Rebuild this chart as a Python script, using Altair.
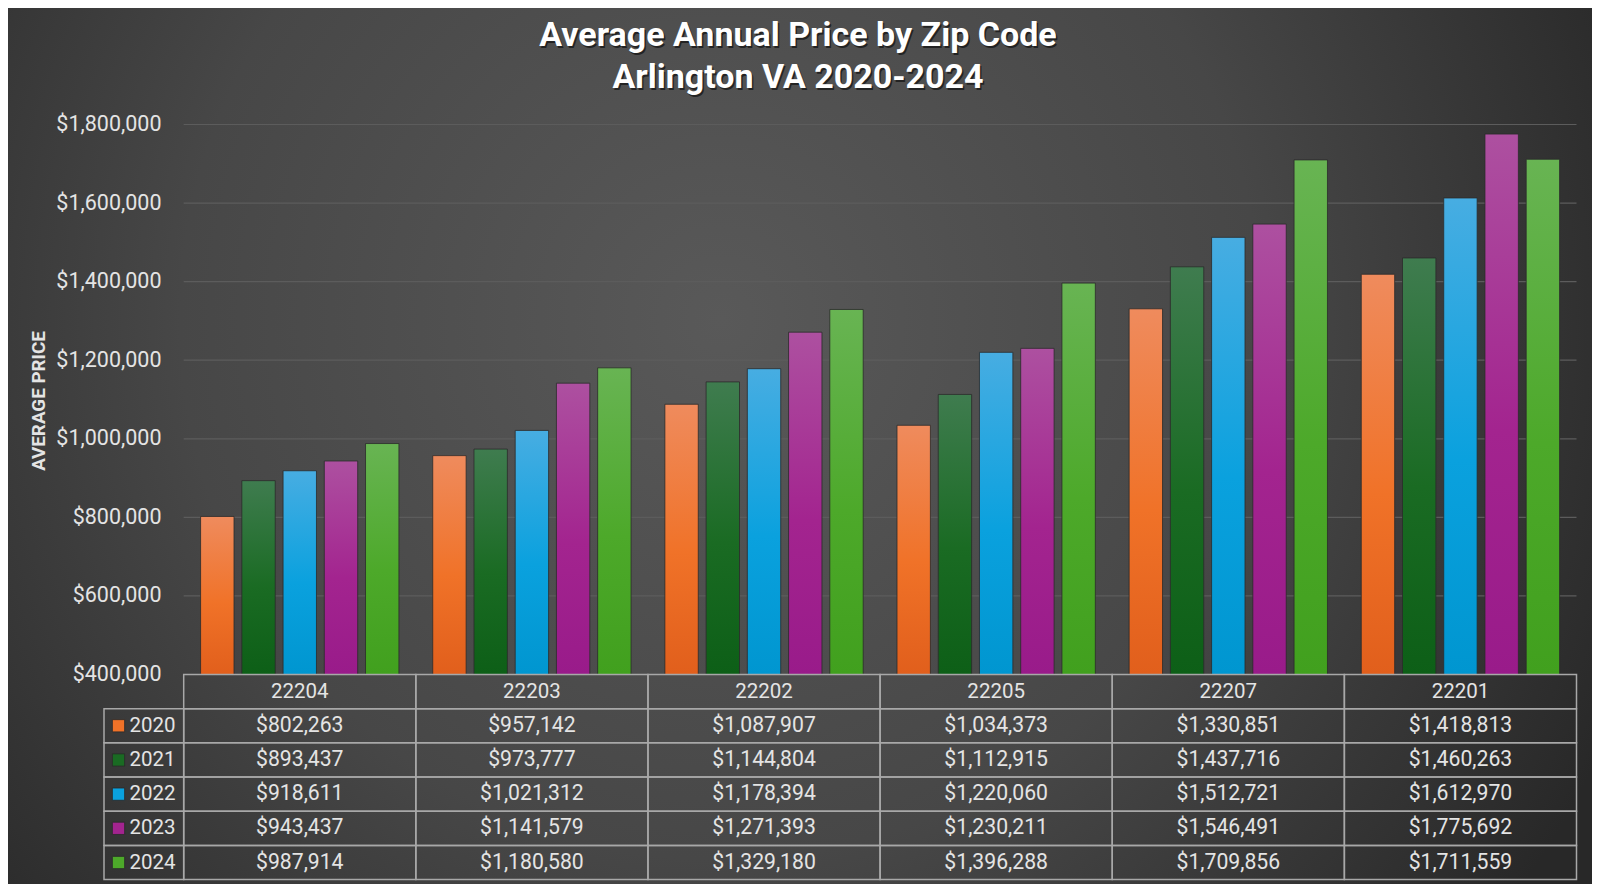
import altair as alt
import pandas as pd

# ---------------- data ----------------
zips = ["22204", "22203", "22202", "22205", "22207", "22201"]
years = ["2020", "2021", "2022", "2023", "2024"]
p2020 = [802263, 957142, 1087907, 1034373, 1330851, 1418813]
p2021 = [893437, 973777, 1144804, 1112915, 1437716, 1460263]
p2022 = [918611, 1021312, 1178394, 1220060, 1512721, 1612970]
p2023 = [943437, 1141579, 1271393, 1230211, 1546491, 1775692]
p2024 = [987914, 1180580, 1329180, 1396288, 1709856, 1711559]
y_ticks = [400000, 600000, 800000, 1000000, 1200000, 1400000, 1600000, 1800000]
title_lines = ["Average Annual Price by Zip Code", "Arlington VA 2020-2024"]
y_title = "AVERAGE PRICE"

# ---------------- styles ----------------
W, H = 1584, 876
FONT = "Roboto, 'Liberation Sans', sans-serif"
TXT = "#E4E4E4"
GRID = "#5C5C5C"
TBL = "#A8A8A8"
bar_top = ["#EF8B5D", "#3F7C4F", "#47ADE2", "#AD50A0", "#68B453"]
bar_mid = ["#F07228", "#1A6B23", "#0AA1DE", "#A3248F", "#4DA92A"]
bar_bot = ["#E15F1C", "#0D5F17", "#0096D0", "#991B8A", "#41A01E"]

PX0, PX1 = 175.7, 1568.5        # plot / table column span
PY_TOP, PY_BOT = 116.5, 666.5   # y range of value axis
TBL_BOT = 871.6
LEG_X0 = 96

series = [p2020, p2021, p2022, p2023, p2024]
rows = []
for yr, vals in zip(years, series):
    for z, v in zip(zips, vals):
        rows.append({"zip": z, "year": yr, "price": v, "row": yr, "label": f"${v:,.0f}"})
df = pd.DataFrame(rows)
hdr = pd.DataFrame({"zip": zips, "row": ["hdr"] * len(zips), "label": zips})
yrs_df = pd.DataFrame({"year": years, "row": years})
ticks_df = pd.DataFrame({"v": y_ticks})
one = pd.DataFrame({"a": [0]})

x_scale = alt.Scale(domain=zips, range=[PX0, PX1], paddingInner=0, paddingOuter=0)
xo_scale = alt.Scale(domain=years, paddingInner=0.19, paddingOuter=0.41)
y_scale = alt.Scale(domain=[400000, 1800000], range=[PY_BOT, PY_TOP], zero=False, nice=False)
row_scale = alt.Scale(domain=["hdr"] + years, range=[PY_BOT, TBL_BOT], paddingInner=0, paddingOuter=0)

# ---------------- background ----------------
bg = alt.Chart(one).mark_rect(
    color=alt.Gradient(
        gradient="radial", x1=0.45, y1=0.42, r1=0, x2=0.45, y2=0.42, r2=0.62,
        stops=[alt.GradientStop(offset=0, color="#595959"),
               alt.GradientStop(offset=0.55, color="#474747"),
               alt.GradientStop(offset=1, color="#282828")]
    )
).encode(x=alt.value(0), x2=alt.value(W), y=alt.value(0), y2=alt.value(H))

# ---------------- grid + axis ----------------
grid = alt.Chart(ticks_df).transform_filter("datum.v > 400000").mark_rule(
    color=GRID, strokeWidth=1.2
).encode(
    y=alt.Y("v:Q", scale=y_scale, axis=alt.Axis(
        values=y_ticks, format="$,.0f", offset=-153, domain=False, ticks=False,
        tickSize=0, labelPadding=0, grid=False, zindex=1,
        labelFont=FONT, labelFontSize=21.5, labelColor=TXT,
        title=y_title, titleFont=FONT, titleFontSize=18.8, titleFontWeight="bold",
        titleColor=TXT, titleX=-123, titleY=392.5, titleAngle=270,
        titleAlign="center", titleBaseline="middle")),
    x=alt.value(PX0), x2=alt.value(PX1)
)

# ---------------- bars ----------------
bar_layers = []
for i, yr in enumerate(years):
    grad = alt.Gradient(
        gradient="linear", x1=0, y1=0, x2=0, y2=1,
        stops=[alt.GradientStop(offset=0, color=bar_top[i]),
               alt.GradientStop(offset=0.55, color=bar_mid[i]),
               alt.GradientStop(offset=1, color=bar_bot[i])])
    bar_layers.append(
        alt.Chart(df).transform_filter(f"datum.year == '{yr}'").mark_bar(
            color=grad, stroke="#2A2A2A", strokeWidth=1, strokeOpacity=0.8
        ).encode(
            x=alt.X("zip:N", scale=x_scale, axis=None),
            xOffset=alt.XOffset("year:N", scale=xo_scale),
            y=alt.Y("price:Q", scale=y_scale, axis=None),
            y2=alt.datum(400000)
        )
    )

# ---------------- data table ----------------
cell_style = dict(fill="#000000", fillOpacity=0, stroke=TBL, strokeWidth=1.5)
hdr_cells = alt.Chart(hdr).mark_rect(**cell_style).encode(
    x=alt.X("zip:N", scale=x_scale, axis=None),
    y=alt.Y("row:N", scale=row_scale, axis=None))
val_cells = alt.Chart(df).mark_rect(**cell_style).encode(
    x=alt.X("zip:N", scale=x_scale, axis=None),
    y=alt.Y("row:N", scale=row_scale, axis=None))
leg_cells = alt.Chart(yrs_df).mark_rect(**cell_style).encode(
    x=alt.value(LEG_X0), x2=alt.value(PX0),
    y=alt.Y("row:N", scale=row_scale, axis=None))

txt_style = dict(font=FONT, fontSize=20.5, color=TXT, baseline="middle")
hdr_text = alt.Chart(hdr).mark_text(align="center", **txt_style).encode(
    x=alt.X("zip:N", scale=x_scale, axis=None, bandPosition=0.5),
    y=alt.Y("row:N", scale=row_scale, axis=None, bandPosition=0.5),
    text="label:N")
val_text = alt.Chart(df).mark_text(align="center", font=FONT, fontSize=21.2,
                                   color=TXT, baseline="middle").encode(
    x=alt.X("zip:N", scale=x_scale, axis=None, bandPosition=0.5),
    y=alt.Y("row:N", scale=row_scale, axis=None, bandPosition=0.5),
    text="label:N")
leg_sq = alt.Chart(yrs_df).mark_square(size=150, opacity=1, stroke="#2A2A2A", strokeWidth=0.8).encode(
    x=alt.value(110.5),
    y=alt.Y("row:N", scale=row_scale, axis=None, bandPosition=0.5),
    color=alt.Color("year:N", scale=alt.Scale(domain=years, range=bar_mid), legend=None))
leg_text = alt.Chart(yrs_df).mark_text(align="left", **txt_style).encode(
    x=alt.value(121.5),
    y=alt.Y("row:N", scale=row_scale, axis=None, bandPosition=0.5),
    text="year:N")

# ---------------- title ----------------
title_layers = []
for i, line in enumerate(title_lines):
    yy = 27.7 + i * 41.9
    title_layers.append(alt.Chart(one).mark_text(
        text=line, font=FONT, fontSize=34, fontWeight="bold", color="#111111",
        opacity=0.7, align="center", baseline="middle", dx=1.5, dy=2
    ).encode(x=alt.value(790), y=alt.value(yy)))
    title_layers.append(alt.Chart(one).mark_text(
        text=line, font=FONT, fontSize=34, fontWeight="bold", color="#FFFFFF",
        align="center", baseline="middle"
    ).encode(x=alt.value(790), y=alt.value(yy)))

chart = alt.layer(
    bg, grid, *bar_layers, hdr_cells, val_cells, leg_cells,
    hdr_text, val_text, leg_sq, leg_text, *title_layers
).resolve_scale(y="independent").properties(
    width=W, height=H, padding=0,
    autosize=alt.AutoSizeParams(type="none"),
    background="#3A3A3A"
).configure_view(stroke=None)

chart.save("out.html", embed_options={"renderer": "svg", "actions": False})
